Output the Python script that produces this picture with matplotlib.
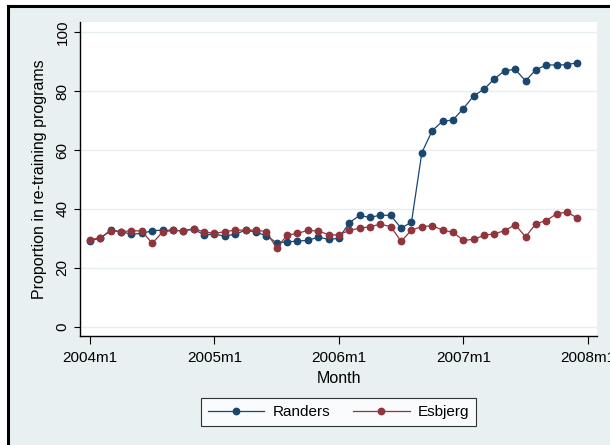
import matplotlib
matplotlib.use("Agg")
import matplotlib.pyplot as plt
from matplotlib.patches import Rectangle
import numpy as np

plt.rcParams['font.family'] = ['Liberation Sans', 'DejaVu Sans']

tick_labels = ["2004m1", "2005m1", "2006m1", "2007m1", "2008m1"]
tick_months = [0, 12, 24, 36, 48]

randers = [29.2, 30.1, 32.8, 32.3, 31.4, 31.7, 32.6, 32.8, 32.7, 32.6, 33.1, 31.2,
           31.4, 30.8, 31.4, 32.8, 32.1, 30.9, 28.5, 28.8, 29.1, 29.3, 30.4, 29.7,
           30.0, 35.3, 37.8, 37.1, 37.9, 37.8, 33.5, 35.5, 59.1, 66.6, 69.8, 70.2,
           74.1, 78.4, 80.7, 84.2, 87.0, 87.4, 83.5, 87.3, 88.9, 88.9, 89.0, 89.7]
esbjerg = [29.5, 30.2, 32.5, 32.3, 32.6, 32.5, 28.3, 32.2, 32.7, 32.6, 33.3, 32.2,
           31.7, 32.3, 32.8, 32.8, 32.8, 32.3, 26.7, 31.1, 31.7, 32.7, 32.5, 31.3,
           31.1, 32.8, 33.4, 34.0, 34.8, 34.0, 29.0, 32.8, 34.0, 34.3, 32.8, 32.1,
           29.3, 29.7, 31.0, 31.6, 32.6, 34.7, 30.5, 35.0, 36.0, 38.4, 38.9, 36.9]
months = np.arange(len(randers))

W, H = 610, 445
bg = '#E9F0F2'
fig = plt.figure(figsize=(W / 100, H / 100), dpi=100)
fig.patch.set_facecolor('white')

# outer framed graph region
frame = Rectangle((8 / W, -0.1), 1.2, 1 - 6 / H + 0.1, transform=fig.transFigure,
                  facecolor=bg, edgecolor='black', linewidth=2.2, zorder=-10)
fig.add_artist(frame)

ax = fig.add_axes([80 / W, 1 - 336 / H, 517 / W, 314 / H])
ax.set_zorder(1)
ax.set_facecolor('white')
ax.set_xlim(-0.964, 48.89)
ax.set_ylim(-3.16, 103.5)

for y in [0, 20, 40, 60, 80, 100]:
    ax.axhline(y, color='#E6EEF0', lw=1.0, zorder=1)

ax.plot(months, randers, color='#1A476F', lw=0.9, marker='o', markersize=4.6,
        label='Randers', zorder=3)
ax.plot(months, esbjerg, color='#90353B', lw=0.9, marker='o', markersize=4.6,
        label='Esbjerg', zorder=4)

ax.set_xticks(tick_months)
ax.set_xticklabels(tick_labels)
ax.set_yticks([0, 20, 40, 60, 80, 100])
ax.set_yticklabels(['0', '20', '40', '60', '80', '100'], rotation=90, va='center')

for s in ['top', 'right']:
    ax.spines[s].set_visible(False)
for s in ['left', 'bottom']:
    ax.spines[s].set_color('black')
    ax.spines[s].set_linewidth(1.0)
ax.tick_params(axis='x', length=6, width=0.8, pad=5, labelsize=11)
ax.tick_params(axis='y', length=4.5, width=0.8, pad=3, labelsize=11)

ax.set_xlabel('Month', fontsize=11.5, labelpad=4)
ax.set_ylabel('Proportion in re-training programs', fontsize=11.5, labelpad=6)

leg = fig.legend(loc='center', bbox_to_anchor=(338.5 / W, 1 - 412 / H), ncol=2,
                 frameon=True, fancybox=False, fontsize=11, handlelength=3.7,
                 columnspacing=1.5, handletextpad=0.55, borderpad=0.45)
leg.set_zorder(5)
leg.get_frame().set_edgecolor('black')
leg.get_frame().set_linewidth(0.8)
leg.get_frame().set_facecolor('white')

fig.savefig('out.png', dpi=100, facecolor=fig.get_facecolor())
